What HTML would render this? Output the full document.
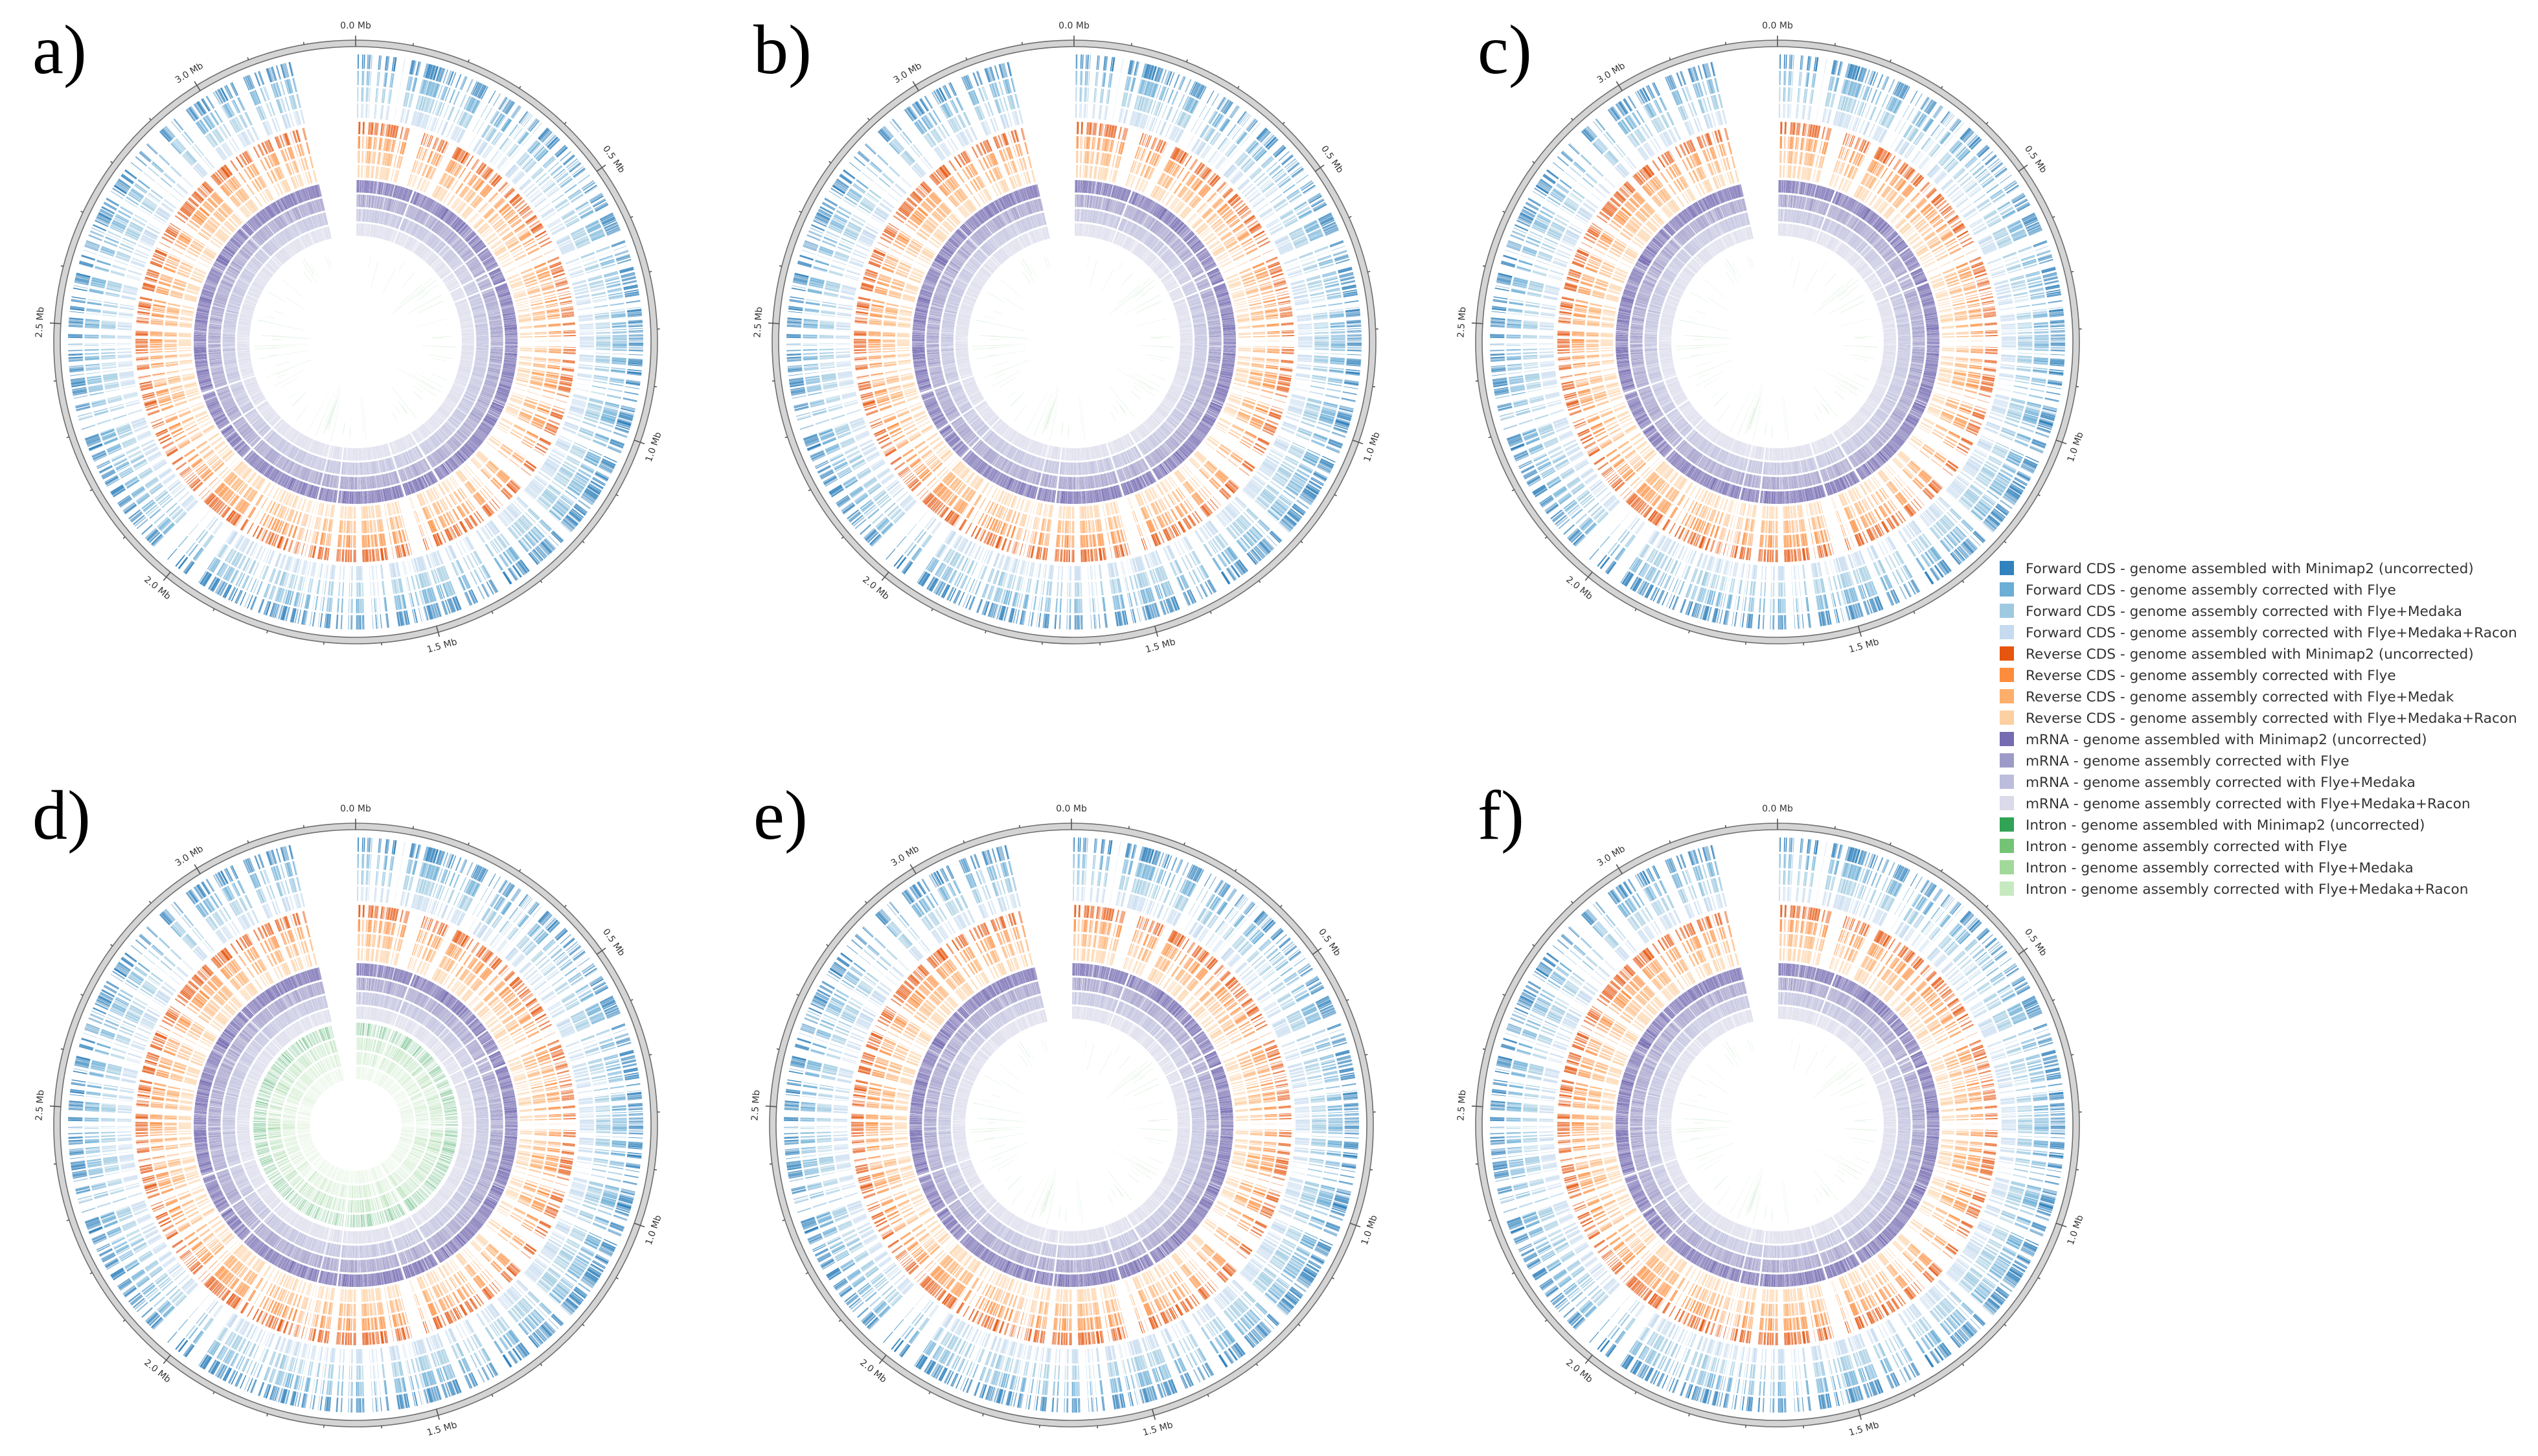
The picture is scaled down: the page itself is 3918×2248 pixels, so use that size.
<!DOCTYPE html>
<html><head><meta charset="utf-8">
<style>
html,body{margin:0;padding:0;background:#fff;}
body{width:3918px;height:2248px;overflow:hidden;position:relative;}
svg{position:absolute;left:0;top:0;}
.pl{font-family:"Liberation Serif",serif;font-size:108px;fill:#000;}
.tk{font-family:"DejaVu Sans","Liberation Sans",sans-serif;font-size:14px;fill:#333;}
.lg{font-family:"DejaVu Sans","Liberation Sans",sans-serif;font-size:21.6px;fill:#333;}
</style></head>
<body>
<svg id="s" width="3918" height="2248" viewBox="0 0 3918 2248" xmlns="http://www.w3.org/2000/svg">
<defs><g id="circ"></g><g id="grs"></g><g id="grd"></g></defs>
<g id="panels"></g>
<text class="pl" x="50" y="113">a)</text>
<text class="pl" x="1163" y="113">b)</text>
<text class="pl" x="2281" y="113">c)</text>
<text class="pl" x="50" y="1295">d)</text>
<text class="pl" x="1163" y="1295">e)</text>
<text class="pl" x="2281" y="1295">f)</text>
<g id="legend">
<rect x="3087" y="866" width="22" height="22" fill="#3182bd"/><text class="lg" x="3127" y="885">Forward CDS - genome assembled with Minimap2 (uncorrected)</text>
<rect x="3087" y="899" width="22" height="22" fill="#6baed6"/><text class="lg" x="3127" y="918">Forward CDS - genome assembly corrected with Flye</text>
<rect x="3087" y="932" width="22" height="22" fill="#9ecae1"/><text class="lg" x="3127" y="951">Forward CDS - genome assembly corrected with Flye+Medaka</text>
<rect x="3087" y="965" width="22" height="22" fill="#c6dbef"/><text class="lg" x="3127" y="984">Forward CDS - genome assembly corrected with Flye+Medaka+Racon</text>
<rect x="3087" y="998" width="22" height="22" fill="#e6550d"/><text class="lg" x="3127" y="1017">Reverse CDS - genome assembled with Minimap2 (uncorrected)</text>
<rect x="3087" y="1031" width="22" height="22" fill="#fd8d3c"/><text class="lg" x="3127" y="1050">Reverse CDS - genome assembly corrected with Flye</text>
<rect x="3087" y="1064" width="22" height="22" fill="#fdae6b"/><text class="lg" x="3127" y="1083">Reverse CDS - genome assembly corrected with Flye+Medak</text>
<rect x="3087" y="1097" width="22" height="22" fill="#fdd0a2"/><text class="lg" x="3127" y="1116">Reverse CDS - genome assembly corrected with Flye+Medaka+Racon</text>
<rect x="3087" y="1130" width="22" height="22" fill="#756bb1"/><text class="lg" x="3127" y="1149">mRNA - genome assembled with Minimap2 (uncorrected)</text>
<rect x="3087" y="1163" width="22" height="22" fill="#9e9ac8"/><text class="lg" x="3127" y="1182">mRNA - genome assembly corrected with Flye</text>
<rect x="3087" y="1196" width="22" height="22" fill="#bcbddc"/><text class="lg" x="3127" y="1215">mRNA - genome assembly corrected with Flye+Medaka</text>
<rect x="3087" y="1229" width="22" height="22" fill="#dadaeb"/><text class="lg" x="3127" y="1248">mRNA - genome assembly corrected with Flye+Medaka+Racon</text>
<rect x="3087" y="1262" width="22" height="22" fill="#31a354"/><text class="lg" x="3127" y="1281">Intron - genome assembled with Minimap2 (uncorrected)</text>
<rect x="3087" y="1295" width="22" height="22" fill="#74c476"/><text class="lg" x="3127" y="1314">Intron - genome assembly corrected with Flye</text>
<rect x="3087" y="1328" width="22" height="22" fill="#a1d99b"/><text class="lg" x="3127" y="1347">Intron - genome assembly corrected with Flye+Medaka</text>
<rect x="3087" y="1361" width="22" height="22" fill="#c7e9c0"/><text class="lg" x="3127" y="1380">Intron - genome assembly corrected with Flye+Medaka+Racon</text>
</g>
</svg>
<script>
(function(){
var NS="http://www.w3.org/2000/svg";
function rng(seed){return function(){seed|=0;seed=seed+0x6D2B79F5|0;var t=Math.imul(seed^seed>>>15,1|seed);t=t+Math.imul(t^t>>>7,61|t)^t;return((t^t>>>14)>>>0)/4294967296;};}
var r=rng(777);
var TOT=3.29;
function ang(p){return p/TOT*360;}
function pt(a,rad){var t=a*Math.PI/180;return [(rad*Math.sin(t)).toFixed(1),(-rad*Math.cos(t)).toFixed(1)];}
function sector(a1,a2,ro,ri){
  var p1=pt(a1,ro),p2=pt(a2,ro),p3=pt(a2,ri),p4=pt(a1,ri);
  if(a2-a1<0.6) return "M"+p1+"L"+p2+"L"+p3+"L"+p4+"Z";
  var lg=(a2-a1)>180?1:0;
  return "M"+p1+"A"+ro+","+ro+" 0 "+lg+" 1 "+p2+"L"+p3+"A"+ri+","+ri+" 0 "+lg+" 0 "+p4+"Z";
}
var genes=[],p=0.003,strand=1;
while(p<3.17){
  if(r()<0.2) strand=-strand;
  if(r()<0.004) p+=0.002+r()*0.006;
  var len=(0.35+r()*1.5)/1000;
  genes.push([p,p+len,strand]);
  p+=len+(0.02+r()*0.18)/1000;
}
var groups={
 blue:{o:444,i:343,c:['#3182bd','#6baed6','#9ecae1','#c6dbef']},
 orange:{o:340,i:251,c:['#e6550d','#fd8d3c','#fdae6b','#fdd0a2']},
 purple:{o:250,i:161,c:['#756bb1','#9e9ac8','#bcbddc','#dadaeb']},
 green:{o:158,i:68,c:['#31a354','#74c476','#a1d99b','#c7e9c0']}
};
function trackRad(g,k){var w=(g.o-g.i)/4;var ro=g.o-k*w;return [ro,ro-w+3];}
function buildGroup(target,g,feat,levs,skip){
  for(var k=0;k<4;k++){
    var tr=trackRad(g,k);var paths=['','','',''];
    for(var j=0;j<feat.length;j++){
      var f=feat[j];
      if(r()<skip) continue;
      var L=Math.floor(r()*4);
      paths[L]+=sector(ang(f[0]),ang(f[1]),tr[0],tr[1]);
    }
    for(var L=0;L<4;L++){
      if(!paths[L])continue;
      var e=document.createElementNS(NS,'path');
      e.setAttribute('d',paths[L]);e.setAttribute('fill',g.c[k]);e.setAttribute('fill-opacity',levs[L]);
      target.appendChild(e);
    }
  }
}
var circ=document.getElementById('circ');
var fwd=genes.filter(function(g){return g[2]>0;});
var rev=genes.filter(function(g){return g[2]<0;});
buildGroup(circ,groups.blue,fwd,[0.45,0.65,0.85,1.0],0.04);
buildGroup(circ,groups.orange,rev,[0.45,0.65,0.85,1.0],0.04);
buildGroup(circ,groups.purple,genes,[0.6,0.8,0.95,1.0],0.02);
var ring=document.createElementNS(NS,'path');
ring.setAttribute('d',"M0,-466A466,466 0 1 1 0,466A466,466 0 1 1 0,-466ZM0,-456A456,456 0 1 0 0,456A456,456 0 1 0 0,-456Z");
ring.setAttribute('fill','#d4d4d4');ring.setAttribute('fill-rule','evenodd');ring.setAttribute('stroke','#6e6e6e');ring.setAttribute('stroke-width','1.6');
circ.appendChild(ring);
var td='';
for(var m=0;m<=32;m++){
  var a=ang(m*0.1);var major=(m%5==0);
  var q1=pt(a,major?456:466),q2=pt(a,major?473:470);
  td+="M"+q1+"L"+q2;
  if(major){
    var lab=(m/10).toFixed(1)+" Mb";
    var c=pt(a,488);var rot=a; if(rot>90&&rot<=270) rot-=180; if(rot>270) rot-=360;
    var t=document.createElementNS(NS,'text');t.setAttribute('class','tk');
    t.setAttribute('text-anchor','middle');t.setAttribute('dominant-baseline','central');
    t.setAttribute('transform','translate('+c[0]+','+c[1]+') rotate('+rot.toFixed(1)+')');
    t.textContent=lab;circ.appendChild(t);
  }
}
var tk=document.createElementNS(NS,'path');tk.setAttribute('d',td);tk.setAttribute('stroke','#555');tk.setAttribute('stroke-width','1.6');tk.setAttribute('fill','none');
circ.appendChild(tk);
var grs=document.getElementById('grs');
var sp='';
for(var i=0;i<80;i++){
  var gg=genes[Math.floor(r()*genes.length)];
  var a1=ang(gg[0]),a2=a1+0.15+r()*0.2;
  var ro=158-r()*30, ri=68+r()*70; if(ri>ro-15) ri=ro-15;
  sp+=sector(a1,a2,ro,ri);
}
var e=document.createElementNS(NS,'path');e.setAttribute('d',sp);e.setAttribute('fill','#74c476');e.setAttribute('fill-opacity','0.25');grs.appendChild(e);
var grd=document.getElementById('grd');
var intr=genes.filter(function(){return r()<0.55;});
buildGroup(grd,groups.green,intr,[0.25,0.4,0.55,0.7],0.05);
var centers=[[549,528,'grs'],[1658,528,'grs'],[2744,528,'grs'],[549,1737,'grd'],[1654,1737,'grs'],[2744,1737,'grs']];
var panels=document.getElementById('panels');
centers.forEach(function(c){
  var g=document.createElementNS(NS,'g');g.setAttribute('transform','translate('+c[0]+','+c[1]+')');
  var u1=document.createElementNS(NS,'use');u1.setAttribute('href','#'+c[2]);g.appendChild(u1);
  var u=document.createElementNS(NS,'use');u.setAttribute('href','#circ');g.appendChild(u);
  panels.appendChild(g);
});
})();
</script>
</body></html>
